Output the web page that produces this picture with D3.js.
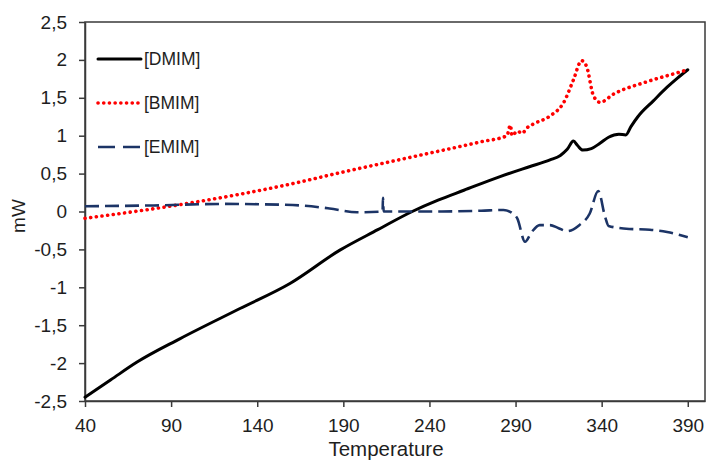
<!DOCTYPE html>
<html>
<head>
<meta charset="utf-8">
<script src="https://cdn.jsdelivr.net/npm/d3@7"></script>
<style>
  body { margin: 0; background: #fff; }
  svg text { font-family: "Liberation Sans", Arial, sans-serif; fill: #1e1e1e; }
  .axis path, .axis line { stroke: #3a3a3a; stroke-width: 1.5; }
  .axis text { font-size: 19px; }
</style>
</head>
<body>
<svg></svg>
<script>
//Data: [temperature, mW]
const dmim = [[40,-2.45],[55,-2.22],[70,-1.99],[95,-1.68],[130,-1.28],[159,-0.95],[188,-0.51],[210,-0.24],[230,0.0],[245,0.15],[260,0.28],[281,0.46],[298,0.59],[310,0.68],[316,0.74],[320,0.82],[323.6,0.93],[326,0.87],[329,0.81],[334,0.83],[339,0.9],[344,0.98],[350,1.02],[354,1.01],[357,1.12],[361,1.25],[370,1.46],[378,1.64],[384,1.76],[390,1.87]];
const bmim = [[40,-0.09],[95,0.09],[165,0.39],[182,0.48],[230,0.72],[270,0.92],[285,1.0],[287,1.14],[288,1.0],[291,1.06],[294,1.03],[296,1.09],[300,1.15],[310,1.26],[318,1.44],[323.5,1.73],[328.4,1.99],[331.3,1.91],[335.2,1.53],[339,1.44],[347,1.55],[366,1.71],[385.5,1.84],[390,1.87]];
const emim = [[40,0.07],[80,0.08],[120,0.1],[153,0.09],[165,0.08],[182,0.04],[198,-0.01],[212.8,0.0],[213,0.18],[213.4,0.0],[221,0.0],[246,0.0],[270,0.01],[283,0.02],[288,-0.02],[291,-0.09],[295.5,-0.4],[299.4,-0.27],[304,-0.18],[310,-0.18],[315,-0.22],[320,-0.26],[327,-0.18],[333,-0.03],[338,0.27],[342,-0.07],[344,-0.19],[356,-0.23],[368,-0.24],[378,-0.27],[390,-0.34]];

const xTicks = [40, 90, 140, 190, 240, 290, 340, 390];
const yTicks = [-2.5, -2, -1.5, -1, -0.5, 0, 0.5, 1, 1.5, 2, 2.5];
const seriesNames = ["[DMIM]", "[BMIM]", "[EMIM]"];

const w = 706;
const h = 460;
const padLeft = 85, padRight = 705, padTop = 22, padBottom = 401;

//Scale Setup
const xScale = d3.scaleLinear().domain([40, 400]).range([padLeft, padRight]);
const yScale = d3.scaleLinear().domain([-2.5, 2.5]).range([padBottom, padTop]);

const chart = d3.select("svg")
                .attr("width", w)
                .attr("height", h);

//Frame (top + right)
chart.append("rect")
     .attr("x", padLeft)
     .attr("y", padTop)
     .attr("width", padRight - padLeft)
     .attr("height", padBottom - padTop)
     .attr("fill", "none")
     .attr("stroke", "#3a3a3a")
     .attr("stroke-width", 1.5);

//Axis Setup
const fmt = (d) => String(d).replace(".", ",");

chart.append("g")
     .attr("class", "axis")
     .attr("transform", "translate(0, " + padBottom + ")")
     .call(d3.axisBottom(xScale).tickValues(xTicks).tickSize(6).tickSizeOuter(0).tickPadding(12).tickFormat(fmt));

chart.append("g")
     .attr("class", "axis")
     .attr("transform", "translate(" + padLeft + ", 0)")
     .call(d3.axisLeft(yScale).tickValues(yTicks).tickSize(6).tickSizeOuter(0).tickPadding(12).tickFormat(fmt));

//Lines
const line = d3.line()
               .curve(d3.curveMonotoneX)
               .x((d) => xScale(d[0]))
               .y((d) => yScale(d[1]));

const styles = [
  { data: dmim, color: "#000", width: 3, dash: null, cap: "round" },
  { data: bmim, color: "#ff0000", width: 3.6, dash: "0.1 5.6", cap: "round" },
  { data: emim, color: "#1c3466", width: 2.6, dash: "14 6", cap: "butt" }
];

styles.forEach((s) => {
  chart.append("path")
       .datum(s.data)
       .attr("d", line)
       .attr("fill", "none")
       .attr("stroke", s.color)
       .attr("stroke-width", s.width)
       .attr("stroke-dasharray", s.dash)
       .attr("stroke-linecap", s.cap)
       .attr("stroke-linejoin", "round");
});

//Legend
seriesNames.forEach((name, i) => {
  const y = 59 + i * 44;
  const s = styles[i];
  chart.append("line")
       .attr("x1", 98)
       .attr("x2", 141)
       .attr("y1", y)
       .attr("y2", y)
       .attr("stroke", s.color)
       .attr("stroke-width", s.width)
       .attr("stroke-dasharray", i == 2 ? "17 8" : s.dash)
       .attr("stroke-linecap", s.cap);
  chart.append("text")
       .attr("x", 144)
       .attr("y", y + 6)
       .style("font-size", "17.5px")
       .text(name);
});

//Labels Setup
chart.append("text")
     .attr("x", 386)
     .attr("y", 456)
     .attr("text-anchor", "middle")
     .style("font-size", "20.5px")
     .text("Temperature");

chart.append("text")
     .attr("transform", "translate(25, 216) rotate(-90)")
     .attr("text-anchor", "middle")
     .style("font-size", "19px")
     .text("mW");
</script>
</body>
</html>
